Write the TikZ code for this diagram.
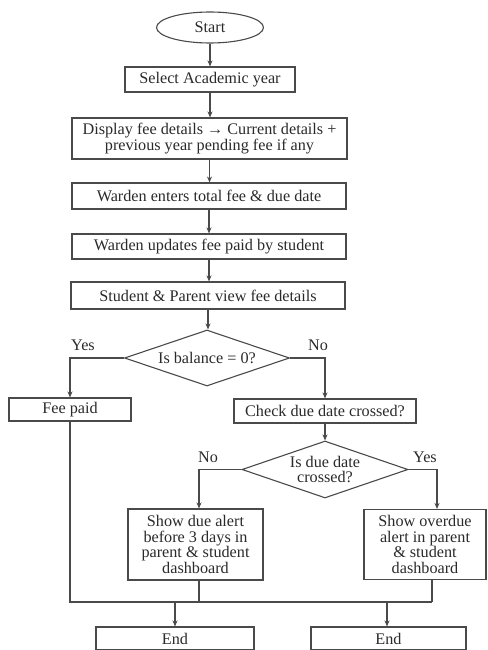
\documentclass[tikz,border=0pt]{standalone}
\usepackage{fontspec}
\setmainfont{Liberation Serif}
\usetikzlibrary{shapes.geometric,arrows.meta,calc}
\definecolor{ink}{HTML}{2A2A2A}
\definecolor{edge}{HTML}{4A4A4A}
\begin{document}
\begin{tikzpicture}[x=1pt,y=-1pt,
  every node/.style={font=\fontsize{16.2}{15.7}\selectfont, text=ink},
  box/.style={draw=edge, line width=1.1pt, rectangle, inner sep=0pt, align=center},
  decision/.style={draw=edge, line width=1.1pt, diamond, inner sep=0pt, align=center},
  terminal/.style={draw=edge, line width=1.1pt, ellipse, inner sep=0pt},
  link/.style={draw=edge, line width=1.1pt},
  arr/.style={link, -{Stealth[length=6pt,width=5pt]}},
  tag/.style={inner sep=0pt}
]
\useasboundingbox (0,0) rectangle (487,650);

% main column
\node[terminal, minimum width=107pt, minimum height=31pt] (start) at (210,27.5) {Start};
\node[box, minimum width=170pt, minimum height=25pt] (sel) at (210,79.5) {Select Academic year};
\node[box, minimum width=275pt, minimum height=41pt] (disp) at (209.5,138.5)
  {Display fee details → Current details +\\previous year pending fee if any};
\node[box, minimum width=274pt, minimum height=26pt] (went) at (209,196) {Warden enters total fee \& due date};
\node[box, minimum width=274pt, minimum height=25pt] (wupd) at (209,246.5) {Warden updates fee paid by student};
\node[box, minimum width=274pt, minimum height=27pt] (view) at (208,295.5) {Student \& Parent view fee details};
\node[decision, aspect=2.95, minimum width=165pt, minimum height=56pt] (d1) at (207,358) {Is balance = 0?};

% branches
\node[box, minimum width=122pt, minimum height=23pt] (fee) at (70,409.5) {Fee paid};
\node[box, minimum width=182pt, minimum height=24pt] (chk) at (325,411) {Check due date crossed?};
\node[decision, aspect=2.9, minimum width=166pt, minimum height=57pt] (d2) at (325,469.5) {Is due date\\crossed?};
\node[box, minimum width=135pt, minimum height=71pt] (due) at (195.5,544.5)
  {Show due alert\\before 3 days in\\parent \& student\\dashboard};
\node[box, minimum width=122pt, minimum height=70pt] (over) at (425,544.5)
  {Show overdue\\alert in parent\\\& student\\dashboard};

% end boxes
\node[box, minimum width=158pt, minimum height=23pt] (end1) at (175,638.5) {End};
\node[box, minimum width=155pt, minimum height=23pt] (end2) at (388.5,638.5) {End};

% branch labels
\node[tag] (yes1) at (83,345) {Yes};
\node[tag] (no1) at (318,345) {No};
\node[tag] (no2) at (208,457) {No};
\node[tag] (yes2) at (425,457) {Yes};

% junction points
\coordinate (dueIn) at ($(due.north)+(3.5,0)$);
\coordinate (dueOut) at ($(due.south)+(3.5,0)$);
\coordinate (overIn) at ($(over.north)+(12,0)$);
\coordinate (overOut) at ($(over.south)+(7,0)$);
\coordinate (e2In) at ($(end2.north)+(-1.5,0)$);
\coordinate (jR) at (432,602);

% connectors
\draw[arr] (start.south) -- (start.south |- sel.north);
\draw[arr] (sel.south) -- (sel.south |- disp.north);
\draw[arr] (disp.south) -- (disp.south |- went.north);
\draw[arr] (went.south) -- (went.south |- wupd.north);
\draw[arr] (wupd.south) -- (wupd.south |- view.north);
\draw[arr] (view.south) -- (view.south |- d1.north);
\draw[arr] (d1.west) -| (fee.north);
\draw[arr] (d1.east) -| (chk.north);
\draw[arr] (chk.south) -- (d2.north);
\draw[arr] (d2.west) -| (dueIn);
\draw[arr] (d2.east) -| (overIn);
\draw[link] (fee.south) |- (jR);
\draw[link] (dueOut) -- (dueOut |- jR);
\draw[link] (overOut) -- (jR);
\draw[arr] (end1.north |- jR) -- (end1.north);
\draw[arr] (e2In |- jR) -- (e2In);
\end{tikzpicture}
\end{document}
